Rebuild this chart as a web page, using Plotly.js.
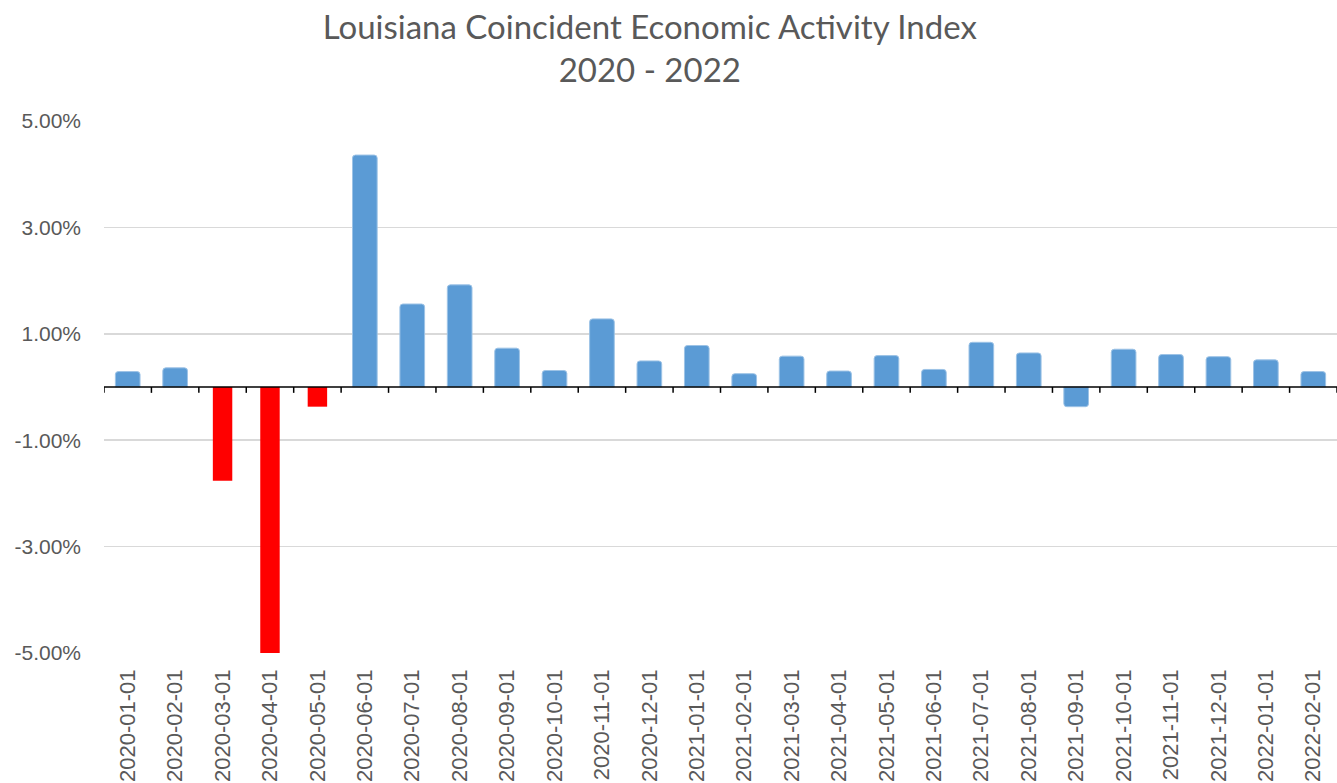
<!DOCTYPE html>
<html><head><meta charset="utf-8">
<script src="https://cdn.plot.ly/plotly-3.0.1.min.js"></script>
<style>html,body{margin:0;padding:0;background:#fff}#chart{width:1337px;height:783px}</style>
</head><body><div id="chart"></div>
<script>
const categories = ["2020-01-01","2020-02-01","2020-03-01","2020-04-01","2020-05-01","2020-06-01","2020-07-01","2020-08-01","2020-09-01","2020-10-01","2020-11-01","2020-12-01","2021-01-01","2021-02-01","2021-03-01","2021-04-01","2021-05-01","2021-06-01","2021-07-01","2021-08-01","2021-09-01","2021-10-01","2021-11-01","2021-12-01","2022-01-01","2022-02-01"];
const values = [0.29,0.36,-1.76,-5.0,-0.37,4.36,1.56,1.92,0.73,0.31,1.28,0.49,0.78,0.25,0.58,0.30,0.59,0.33,0.84,0.64,-0.37,0.71,0.61,0.57,0.51,0.29];
const redMonths = ["2020-03-01","2020-04-01","2020-05-01"];
const yTicks = [-5,-3,-1,1,3,5];

const blueY = values.map((v,i)=> redMonths.includes(categories[i]) ? null : v/100);
const redY = values.map((v,i)=> redMonths.includes(categories[i]) ? v/100 : null);

const grey = '#595959';
const traces = [
  {type:'bar', x:categories, y:blueY, width:0.52,
   marker:{color:'#5B9BD5', line:{color:'#9DC3E6', width:1}, cornerradius:3},
   hoverinfo:'x+y'},
  {type:'bar', x:categories, y:redY, width:0.41,
   marker:{color:'#FF0000', line:{width:0}}, hoverinfo:'x+y'}
];

const shapes = [{type:'line', xref:'paper', x0:0, x1:1, yref:'y', y0:0, y1:0,
  line:{color:'#000', width:1.5}}];
for (let i=0;i<=categories.length;i++){
  shapes.push({type:'line', xref:'x', x0:i-0.5, x1:i-0.5, yref:'y', y0:0, y1:-0.0011,
    line:{color:'#000', width:1.5}});
}

const layout = {
  width:1337, height:783,
  margin:{l:104, r:0, t:121, b:130},
  paper_bgcolor:'#fff', plot_bgcolor:'#fff',
  showlegend:false,
  barmode:'overlay',
  title:{text:'Louisiana Coincident Economic Activity Index<br>2020 - 2022',
    font:{family:'Lato, Open Sans, sans-serif', size:33, color:grey},
    x:0.486, xref:'container', xanchor:'center', y:0.95, yref:'container', yanchor:'top'},
  xaxis:{type:'category', showgrid:false, zeroline:false, showline:false, ticks:'',
    tickangle:-90, tickfont:{family:'Liberation Sans, Arial, sans-serif', size:22, color:grey},
    ticklabelstandoff:11, range:[-0.5, categories.length-0.5]},
  yaxis:{range:[-0.05,0.05], tickvals:yTicks.map(v=>v/100), ticktext:yTicks.map(v=>v.toFixed(2)+'%'),
    showgrid:true, gridcolor:'#D9D9D9', gridwidth:1.5, zeroline:false, showline:false, ticks:'',
    tickfont:{family:'Liberation Sans, Arial, sans-serif', size:21, color:grey},
    ticklabelstandoff:22},
  shapes:shapes
};
Plotly.newPlot('chart', traces, layout, {displayModeBar:false, staticPlot:true});
</script></body></html>
